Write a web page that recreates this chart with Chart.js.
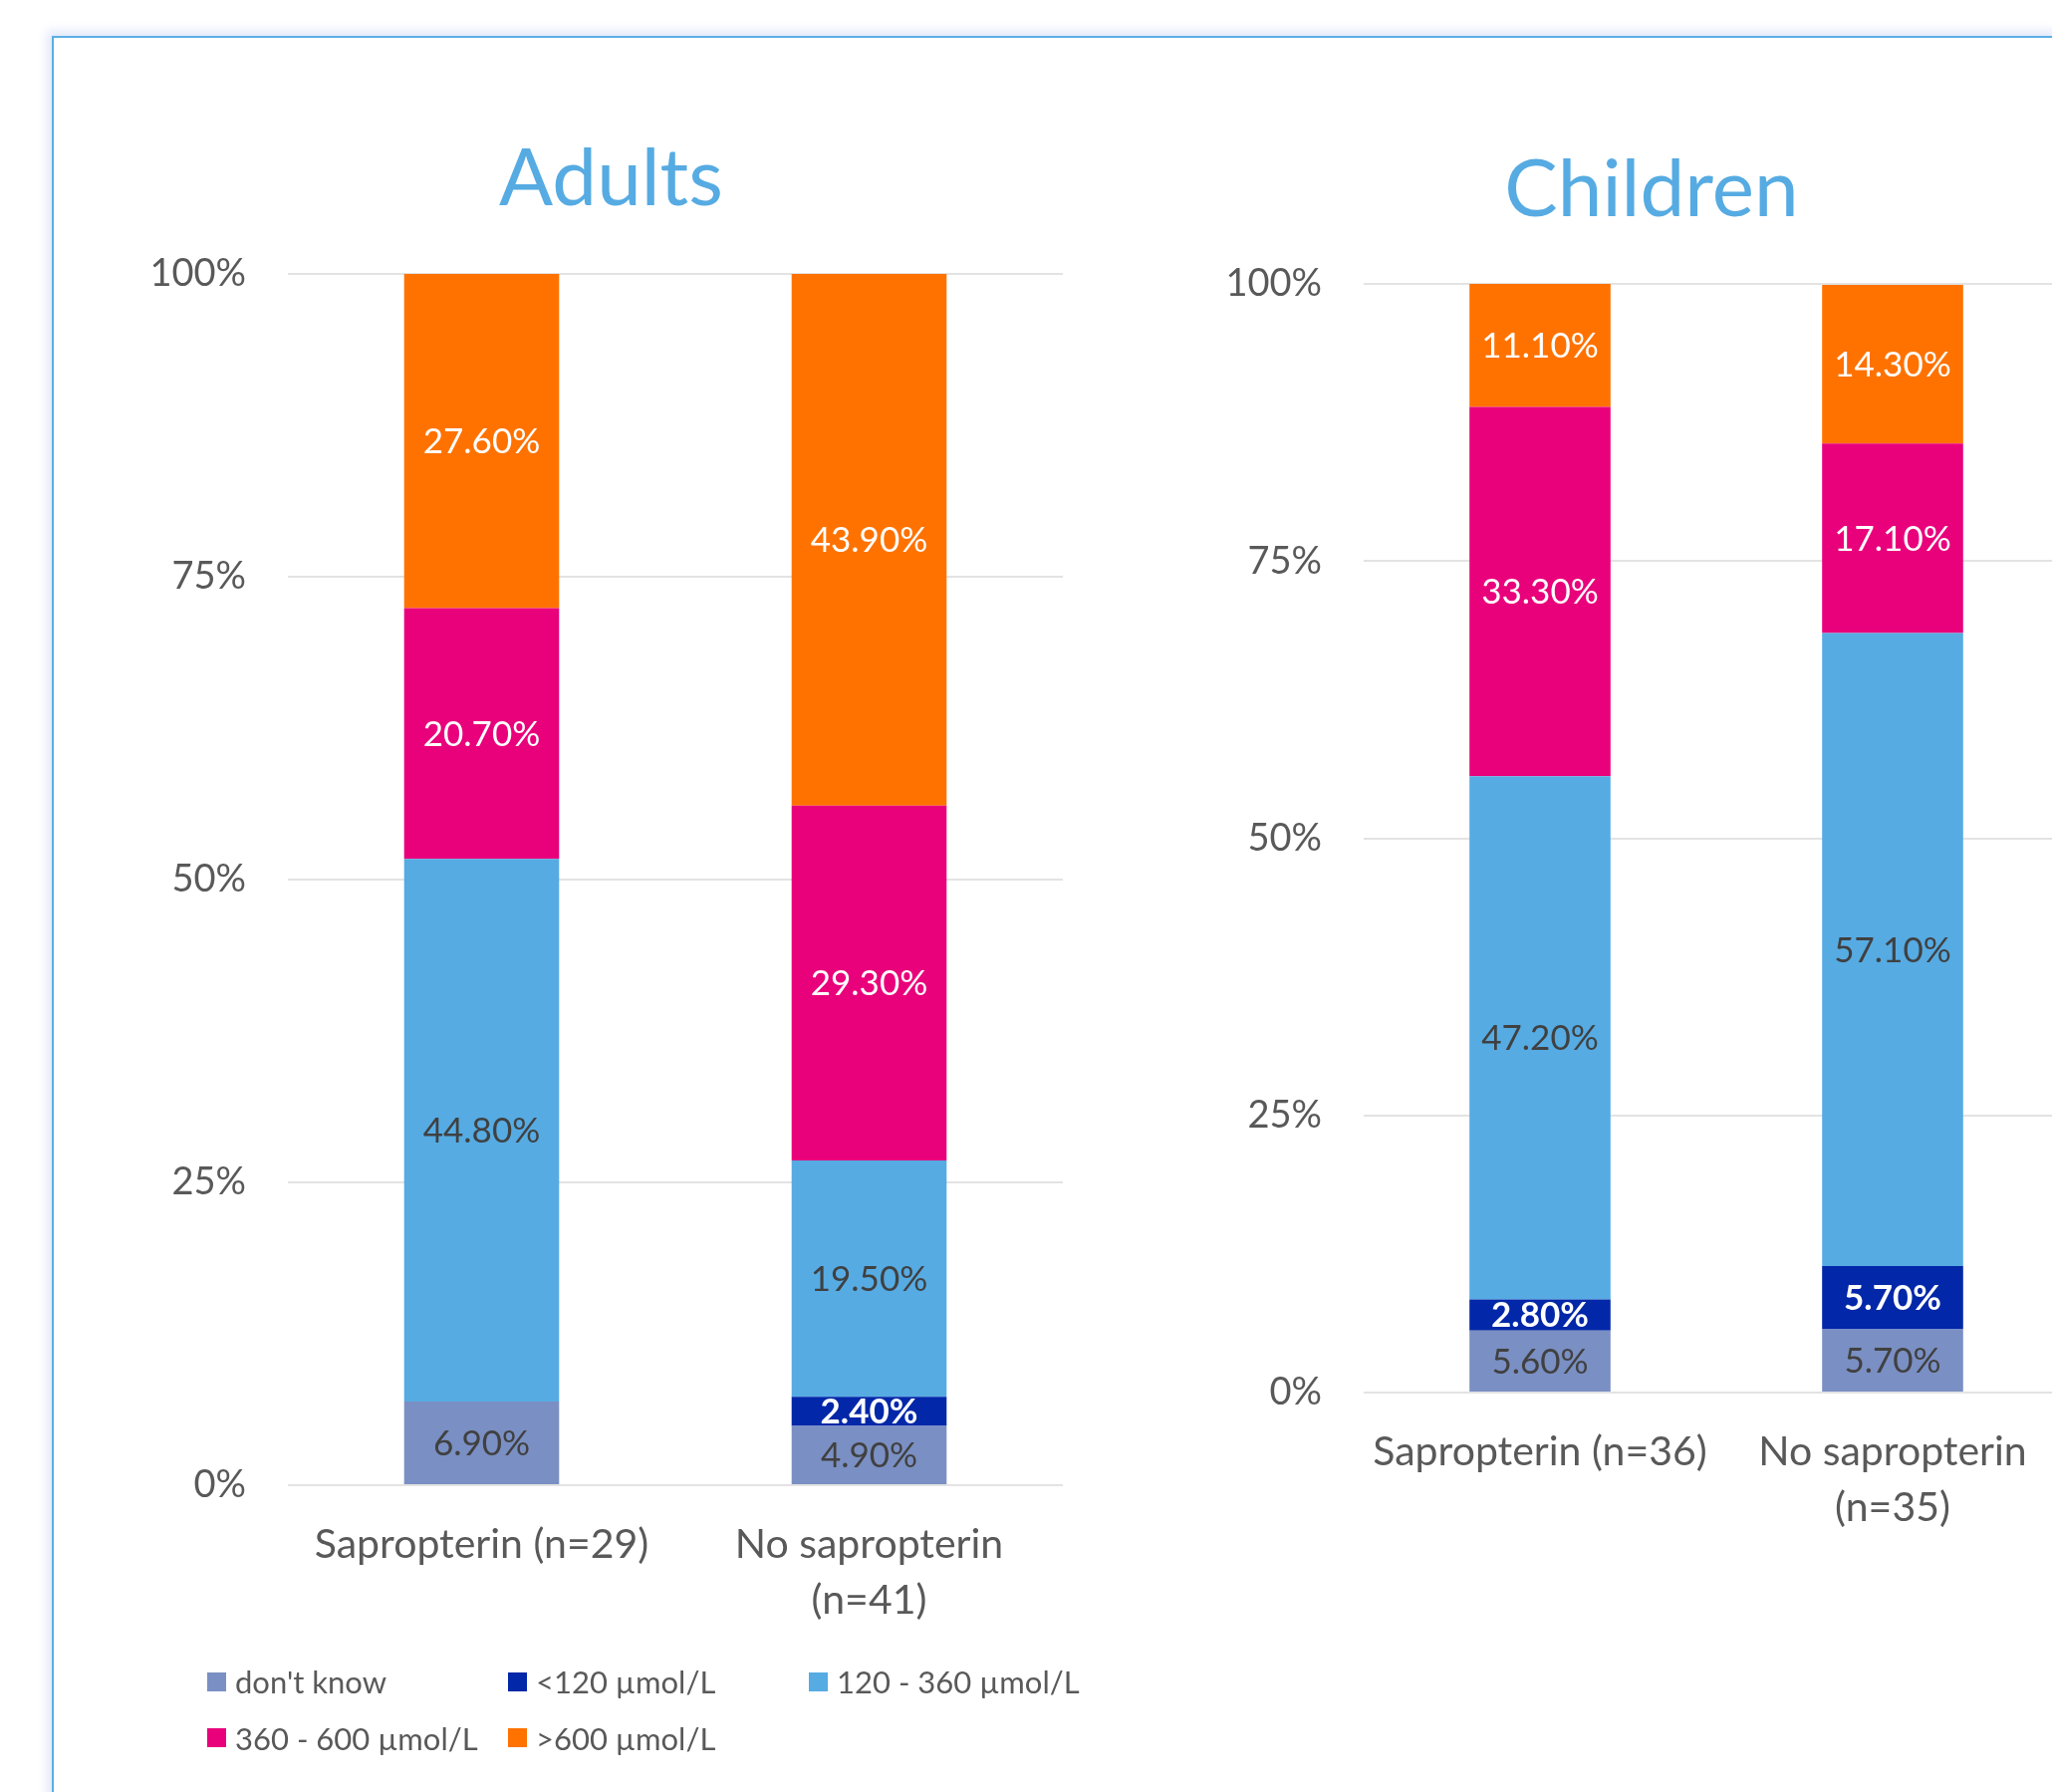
<!DOCTYPE html>
<html><head><meta charset="utf-8">
<script src="https://cdn.jsdelivr.net/npm/chart.js@4.4.1/dist/chart.umd.min.js"></script>
<style>
html,body{margin:0;padding:0;width:2060px;height:1799px;overflow:hidden;background:#fff;}
#frame{position:absolute;left:52px;top:36px;width:2200px;height:2000px;border:2px solid #5BAFE4;box-shadow:0 0 10px 5px #e2e8fb;box-sizing:border-box;}
canvas{position:absolute;top:0;}
#c1{left:0}
#c2{left:1100px}
#legend{position:absolute;left:208px;top:1660px;display:grid;grid-template-columns:302px 302px 302px;font-family:Lato;font-size:31px;color:#595959;}
.li{display:flex;align-items:center;height:56.5px;white-space:nowrap}
.sw{width:19px;height:19px;margin-right:9px;flex:none}
</style></head><body>
<div id="frame"></div>
<canvas id="c1" width="1150" height="1799"></canvas>
<canvas id="c2" width="1100" height="1799"></canvas>
<div id="legend"></div>
<script>
// ---- data ----
const seriesNames = ["don't know", "<120 µmol/L", "120 - 360 µmol/L", "360 - 600 µmol/L", ">600 µmol/L"];
const adultCategories = ["Sapropterin (n=29)", ["No sapropterin", "(n=41)"]];
const childCategories = ["Sapropterin (n=36)", ["No sapropterin", "(n=35)"]];
const adultDontKnow = [6.9, 4.9];
const adultBelow120 = [0, 2.4];
const adult120to360 = [44.8, 19.5];
const adult360to600 = [20.7, 29.3];
const adultAbove600 = [27.6, 43.9];
const childDontKnow = [5.6, 5.7];
const childBelow120 = [2.8, 5.7];
const child120to360 = [47.2, 57.1];
const child360to600 = [33.3, 17.1];
const childAbove600 = [11.1, 14.3];
const yTickStep = 25;

// ---- styles ----
const seriesColors = ['#7A8FC3', '#0227A8', '#56ABE3', '#E9007B', '#FF7200'];
const labelColors = ['#404040', '#FFFFFF', '#404040', '#FFFFFF', '#FFFFFF'];
const FONT = 'Lato';

const valueLabels = {
  id: 'valueLabels',
  afterDatasetsDraw(chart) {
    const ctx = chart.ctx;
    ctx.save();
    ctx.textAlign = 'center';
    ctx.textBaseline = 'middle';
    chart.data.datasets.forEach((ds, i) => {
      const meta = chart.getDatasetMeta(i);
      meta.data.forEach((el, j) => {
        const v = ds.data[j];
        if (!v) return;
        ctx.font = (i === 1 ? 'bold ' : '') + '35px ' + FONT;
        ctx.fillStyle = labelColors[i];
        ctx.fillText(v.toFixed(2) + '%', el.x, (el.y + el.base) / 2 + 1);
      });
    });
    ctx.restore();
  }
};

const panelTitle = {
  id: 'panelTitle',
  afterDraw(chart, args, opts) {
    const ctx = chart.ctx;
    ctx.save();
    ctx.font = '80px ' + FONT;
    ctx.fillStyle = '#56ABE2';
    ctx.textAlign = 'center';
    ctx.textBaseline = 'alphabetic';
    ctx.fillText(opts.text, opts.x, opts.y);
    ctx.restore();
  }
};

function makeChart(id, cats, series, area, title) {
  return new Chart(document.getElementById(id), {
    type: 'bar',
    data: {
      labels: cats,
      datasets: series.map((d, i) => ({
        label: seriesNames[i], data: d, backgroundColor: seriesColors[i],
        borderWidth: 0, categoryPercentage: 0.4, barPercentage: 1
      }))
    },
    options: {
      responsive: false, animation: false, devicePixelRatio: 1,
      layout: { padding: { left: 0, top: area.top, right: area.right, bottom: area.bottom } },
      plugins: { legend: { display: false }, tooltip: { enabled: false }, panelTitle: title },
      scales: {
        x: {
          stacked: true, grid: { display: false }, border: { display: false },
          ticks: { font: { family: FONT, size: 41, lineHeight: 1.36 }, color: '#595959', padding: 24, maxRotation: 0, autoSkip: false },
          afterFit: s => { s.height = 150; }
        },
        y: {
          stacked: true, min: 0, max: 100,
          grid: { color: '#E3E3E3', lineWidth: 2, drawTicks: false }, border: { display: false },
          ticks: { stepSize: yTickStep, callback: v => v + '%', font: { family: FONT, size: 38 }, color: '#595959', padding: 42 },
          afterFit: s => { s.width = area.yWidth; }
        }
      }
    },
    plugins: [valueLabels, panelTitle]
  });
}

const chart1 = makeChart('c1', adultCategories,
  [adultDontKnow, adultBelow120, adult120to360, adult360to600, adultAbove600],
  { top: 275, right: 83, bottom: 158, yWidth: 289 },
  { text: 'Adults', x: 613.5, y: 206 });

const chart2 = makeChart('c2', childCategories,
  [childDontKnow, childBelow120, child120to360, child360to600, childAbove600],
  { top: 285, right: 123, bottom: 251, yWidth: 269 },
  { text: 'Children', x: 558, y: 217 });

// HTML legend built from chart 1 datasets
const legendEl = document.getElementById('legend');
chart1.data.datasets.forEach(ds => {
  const item = document.createElement('div');
  item.className = 'li';
  const sw = document.createElement('span');
  sw.className = 'sw';
  sw.style.background = ds.backgroundColor;
  const tx = document.createElement('span');
  tx.textContent = ds.label;
  item.appendChild(sw); item.appendChild(tx);
  legendEl.appendChild(item);
});
</script>
</body></html>
